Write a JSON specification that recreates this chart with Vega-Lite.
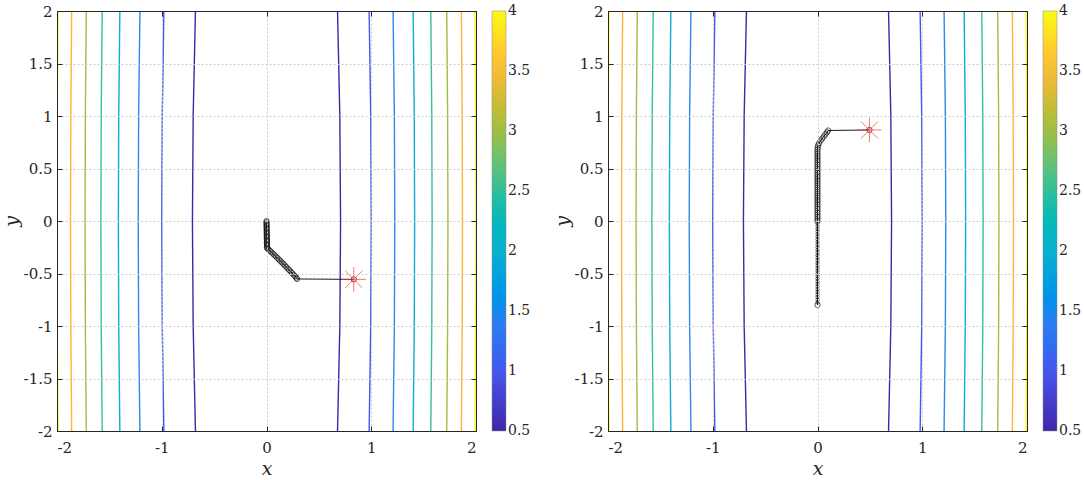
{
  "$schema": "https://vega.github.io/schema/vega-lite/v6.json",
  "padding": {"left": 2, "top": 4, "right": 1, "bottom": 1},
  "datasets": {
    "contours": [
      {"side":"l","f":0.5,"x":-0.6782,"y":-2},{"side":"l","f":0.5,"x":-0.7,"y":-1},{"side":"l","f":0.5,"x":-0.7071,"y":0},{"side":"l","f":0.5,"x":-0.7,"y":1},{"side":"l","f":0.5,"x":-0.6782,"y":2},
      {"side":"r","f":0.5,"x":0.6782,"y":-2},{"side":"r","f":0.5,"x":0.7,"y":-1},{"side":"r","f":0.5,"x":0.7071,"y":0},{"side":"r","f":0.5,"x":0.7,"y":1},{"side":"r","f":0.5,"x":0.6782,"y":2},
      {"side":"l","f":1,"x":-0.9798,"y":-2},{"side":"l","f":1,"x":-0.995,"y":-1},{"side":"l","f":1,"x":-1,"y":0},{"side":"l","f":1,"x":-0.995,"y":1},{"side":"l","f":1,"x":-0.9798,"y":2},
      {"side":"r","f":1,"x":0.9798,"y":-2},{"side":"r","f":1,"x":0.995,"y":-1},{"side":"r","f":1,"x":1,"y":0},{"side":"r","f":1,"x":0.995,"y":1},{"side":"r","f":1,"x":0.9798,"y":2},
      {"side":"l","f":1.5,"x":-1.2083,"y":-2},{"side":"l","f":1.5,"x":-1.2207,"y":-1},{"side":"l","f":1.5,"x":-1.2247,"y":0},{"side":"l","f":1.5,"x":-1.2207,"y":1},{"side":"l","f":1.5,"x":-1.2083,"y":2},
      {"side":"r","f":1.5,"x":1.2083,"y":-2},{"side":"r","f":1.5,"x":1.2207,"y":-1},{"side":"r","f":1.5,"x":1.2247,"y":0},{"side":"r","f":1.5,"x":1.2207,"y":1},{"side":"r","f":1.5,"x":1.2083,"y":2},
      {"side":"l","f":2,"x":-1.4,"y":-2},{"side":"l","f":2,"x":-1.4107,"y":-1},{"side":"l","f":2,"x":-1.4142,"y":0},{"side":"l","f":2,"x":-1.4107,"y":1},{"side":"l","f":2,"x":-1.4,"y":2},
      {"side":"r","f":2,"x":1.4,"y":-2},{"side":"r","f":2,"x":1.4107,"y":-1},{"side":"r","f":2,"x":1.4142,"y":0},{"side":"r","f":2,"x":1.4107,"y":1},{"side":"r","f":2,"x":1.4,"y":2},
      {"side":"l","f":2.5,"x":-1.5684,"y":-2},{"side":"l","f":2.5,"x":-1.578,"y":-1},{"side":"l","f":2.5,"x":-1.5811,"y":0},{"side":"l","f":2.5,"x":-1.578,"y":1},{"side":"l","f":2.5,"x":-1.5684,"y":2},
      {"side":"r","f":2.5,"x":1.5684,"y":-2},{"side":"r","f":2.5,"x":1.578,"y":-1},{"side":"r","f":2.5,"x":1.5811,"y":0},{"side":"r","f":2.5,"x":1.578,"y":1},{"side":"r","f":2.5,"x":1.5684,"y":2},
      {"side":"l","f":3,"x":-1.7205,"y":-2},{"side":"l","f":3,"x":-1.7292,"y":-1},{"side":"l","f":3,"x":-1.7321,"y":0},{"side":"l","f":3,"x":-1.7292,"y":1},{"side":"l","f":3,"x":-1.7205,"y":2},
      {"side":"r","f":3,"x":1.7205,"y":-2},{"side":"r","f":3,"x":1.7292,"y":-1},{"side":"r","f":3,"x":1.7321,"y":0},{"side":"r","f":3,"x":1.7292,"y":1},{"side":"r","f":3,"x":1.7205,"y":2},
      {"side":"l","f":3.5,"x":-1.8601,"y":-2},{"side":"l","f":3.5,"x":-1.8682,"y":-1},{"side":"l","f":3.5,"x":-1.8708,"y":0},{"side":"l","f":3.5,"x":-1.8682,"y":1},{"side":"l","f":3.5,"x":-1.8601,"y":2},
      {"side":"r","f":3.5,"x":1.8601,"y":-2},{"side":"r","f":3.5,"x":1.8682,"y":-1},{"side":"r","f":3.5,"x":1.8708,"y":0},{"side":"r","f":3.5,"x":1.8682,"y":1},{"side":"r","f":3.5,"x":1.8601,"y":2},
      {"side":"l","f":4,"x":-1.99,"y":-2},{"side":"l","f":4,"x":-1.9975,"y":-1},{"side":"l","f":4,"x":-2,"y":0},{"side":"l","f":4,"x":-1.9975,"y":1},{"side":"l","f":4,"x":-1.99,"y":2},
      {"side":"r","f":4,"x":1.99,"y":-2},{"side":"r","f":4,"x":1.9975,"y":-1},{"side":"r","f":4,"x":2,"y":0},{"side":"r","f":4,"x":1.9975,"y":1},{"side":"r","f":4,"x":1.99,"y":2}
    ],
    "path1": [
      {"i":0,"ph":"b","x":0,"y":0},{"i":1,"ph":"b","x":0,"y":-0.012},{"i":2,"ph":"b","x":0,"y":-0.024},{"i":3,"ph":"b","x":0.001,"y":-0.036},{"i":4,"ph":"b","x":0.001,"y":-0.048},{"i":5,"ph":"b","x":0.001,"y":-0.06},{"i":6,"ph":"b","x":0.001,"y":-0.072},{"i":7,"ph":"b","x":0.002,"y":-0.084},{"i":8,"ph":"b","x":0.002,"y":-0.096},{"i":9,"ph":"b","x":0.002,"y":-0.108},{"i":10,"ph":"b","x":0.002,"y":-0.12},{"i":11,"ph":"b","x":0.003,"y":-0.132},{"i":12,"ph":"b","x":0.003,"y":-0.144},{"i":13,"ph":"b","x":0.003,"y":-0.156},{"i":14,"ph":"b","x":0.003,"y":-0.168},{"i":15,"ph":"b","x":0.004,"y":-0.18},{"i":16,"ph":"b","x":0.004,"y":-0.192},{"i":17,"ph":"b","x":0.004,"y":-0.204},{"i":18,"ph":"b","x":0.004,"y":-0.216},{"i":19,"ph":"b","x":0.005,"y":-0.228},{"i":20,"ph":"b","x":0.005,"y":-0.24},{"i":21,"ph":"b","x":0.005,"y":-0.252},
      {"i":22,"ph":"b","x":0.008,"y":-0.262},{"i":23,"ph":"b","x":0.02,"y":-0.272},{"i":24,"ph":"b","x":0.034,"y":-0.285},{"i":25,"ph":"b","x":0.048,"y":-0.298},{"i":26,"ph":"b","x":0.062,"y":-0.311},{"i":27,"ph":"b","x":0.076,"y":-0.325},{"i":28,"ph":"b","x":0.09,"y":-0.338},{"i":29,"ph":"b","x":0.104,"y":-0.352},{"i":30,"ph":"b","x":0.118,"y":-0.366},{"i":31,"ph":"b","x":0.132,"y":-0.38},{"i":32,"ph":"b","x":0.146,"y":-0.394},{"i":33,"ph":"b","x":0.16,"y":-0.408},{"i":34,"ph":"b","x":0.174,"y":-0.422},{"i":35,"ph":"b","x":0.188,"y":-0.437},{"i":36,"ph":"b","x":0.202,"y":-0.452},{"i":37,"ph":"b","x":0.216,"y":-0.466},{"i":38,"ph":"b","x":0.23,"y":-0.481},{"i":39,"ph":"b","x":0.244,"y":-0.496},{"i":40,"ph":"b","x":0.258,"y":-0.511},{"i":41,"ph":"b","x":0.272,"y":-0.526},{"i":42,"ph":"b","x":0.284,"y":-0.54},{"i":43,"ph":"b","x":0.292,"y":-0.552},
      {"i":44,"ph":"b","x":0.833,"y":-0.556}
    ],
    "star1": [{"x":0.833,"y":-0.556}],
    "path2": [
      {"i":0,"ph":"b","x":0,"y":-0.8},
      {"i":1,"ph":"a","x":0,"y":-0.775},{"i":2,"ph":"a","x":0,"y":-0.75},{"i":3,"ph":"a","x":0,"y":-0.725},{"i":4,"ph":"a","x":0,"y":-0.7},{"i":5,"ph":"a","x":0,"y":-0.675},{"i":6,"ph":"a","x":0,"y":-0.65},{"i":7,"ph":"a","x":0,"y":-0.625},{"i":8,"ph":"a","x":0,"y":-0.6},{"i":9,"ph":"a","x":0,"y":-0.575},{"i":10,"ph":"a","x":0,"y":-0.55},{"i":11,"ph":"a","x":0,"y":-0.525},{"i":12,"ph":"a","x":0,"y":-0.5},{"i":13,"ph":"a","x":0,"y":-0.475},{"i":14,"ph":"a","x":0,"y":-0.45},{"i":15,"ph":"a","x":0,"y":-0.425},{"i":16,"ph":"a","x":0,"y":-0.4},{"i":17,"ph":"a","x":0,"y":-0.375},{"i":18,"ph":"a","x":0,"y":-0.35},{"i":19,"ph":"a","x":0,"y":-0.325},{"i":20,"ph":"a","x":0,"y":-0.3},{"i":21,"ph":"a","x":0,"y":-0.275},{"i":22,"ph":"a","x":0,"y":-0.25},{"i":23,"ph":"a","x":0,"y":-0.225},{"i":24,"ph":"a","x":0,"y":-0.2},{"i":25,"ph":"a","x":0,"y":-0.175},{"i":26,"ph":"a","x":0,"y":-0.15},{"i":27,"ph":"a","x":0,"y":-0.125},{"i":28,"ph":"a","x":0,"y":-0.1},{"i":29,"ph":"a","x":0,"y":-0.075},{"i":30,"ph":"a","x":0,"y":-0.05},{"i":31,"ph":"a","x":0,"y":-0.025},
      {"i":32,"ph":"b","x":0,"y":0},{"i":33,"ph":"b","x":0,"y":0.02},{"i":34,"ph":"b","x":0,"y":0.04},{"i":35,"ph":"b","x":0,"y":0.06},{"i":36,"ph":"b","x":0,"y":0.08},{"i":37,"ph":"b","x":0,"y":0.1},{"i":38,"ph":"b","x":0,"y":0.12},{"i":39,"ph":"b","x":0,"y":0.14},{"i":40,"ph":"b","x":0,"y":0.16},{"i":41,"ph":"b","x":0,"y":0.18},{"i":42,"ph":"b","x":0,"y":0.2},{"i":43,"ph":"b","x":0,"y":0.22},{"i":44,"ph":"b","x":0,"y":0.24},{"i":45,"ph":"b","x":0,"y":0.26},{"i":46,"ph":"b","x":0,"y":0.28},{"i":47,"ph":"b","x":0,"y":0.3},{"i":48,"ph":"b","x":0,"y":0.32},{"i":49,"ph":"b","x":0,"y":0.34},{"i":50,"ph":"b","x":0,"y":0.36},{"i":51,"ph":"b","x":0,"y":0.38},{"i":52,"ph":"b","x":0,"y":0.4},{"i":53,"ph":"b","x":0,"y":0.42},{"i":54,"ph":"b","x":0,"y":0.44},{"i":55,"ph":"b","x":0,"y":0.46},{"i":56,"ph":"b","x":0,"y":0.48},{"i":57,"ph":"b","x":0,"y":0.5},{"i":58,"ph":"b","x":0,"y":0.52},{"i":59,"ph":"b","x":0,"y":0.54},{"i":60,"ph":"b","x":0,"y":0.56},{"i":61,"ph":"b","x":0,"y":0.58},{"i":62,"ph":"b","x":0,"y":0.6},{"i":63,"ph":"b","x":0,"y":0.62},{"i":64,"ph":"b","x":0,"y":0.64},{"i":65,"ph":"b","x":0,"y":0.66},{"i":66,"ph":"b","x":0,"y":0.68},{"i":67,"ph":"b","x":0.001,"y":0.7},
      {"i":68,"ph":"b","x":0.005,"y":0.72},{"i":69,"ph":"b","x":0.015,"y":0.74},{"i":70,"ph":"b","x":0.03,"y":0.765},{"i":71,"ph":"b","x":0.045,"y":0.785},{"i":72,"ph":"b","x":0.06,"y":0.805},{"i":73,"ph":"b","x":0.075,"y":0.825},{"i":74,"ph":"b","x":0.09,"y":0.845},{"i":75,"ph":"b","x":0.102,"y":0.862},
      {"i":76,"ph":"b","x":0.496,"y":0.867}
    ],
    "star2": [{"x":0.496,"y":0.867}]
  },
  "hconcat": [
    {
      "width": 419, "height": 420,
      "layer": [
        {
          "data": {"name": "contours"},
          "mark": {"type": "line", "strokeWidth": 1.4, "clip": true},
          "encoding": {
            "x": {"field": "x", "type": "quantitative", "scale": {"domain": [-2, 2], "nice": false, "zero": false}, "axis": {"orient": "bottom", "values": [-2, -1, 0, 1, 2], "labelExpr": "'' + datum.value", "title": "x", "zindex": 1}},
            "y": {"field": "y", "type": "quantitative", "scale": {"domain": [-2, 2], "nice": false, "zero": false}, "axis": {"orient": "left", "values": [-2, -1.5, -1, -0.5, 0, 0.5, 1, 1.5, 2], "labelExpr": "'' + datum.value", "title": "y", "zindex": 1}},
            "color": {"field": "f", "type": "quantitative", "scale": {"domain": [0.5, 1, 1.5, 2, 2.5, 3, 3.5, 4], "range": ["#3E26A8", "#4656EE", "#2E87EF", "#0BAFCF", "#36BF9B", "#9FBE45", "#FDB63C", "#F9FB15"]}, "legend": {"title": null, "values": [0.5, 1, 1.5, 2, 2.5, 3, 3.5, 4], "labelExpr": "'' + datum.value", "encode": {"labels": {"update": {"baseline": {"value": "middle"}}}}}},
            "detail": {"field": "side", "type": "nominal"},
            "order": {"field": "y", "type": "quantitative"}
          }
        },
        {
          "data": {"name": "path1"},
          "mark": {"type": "line", "color": "#1a1a1a", "strokeWidth": 1},
          "encoding": {
            "x": {"field": "x", "type": "quantitative", "axis": null},
            "y": {"field": "y", "type": "quantitative", "axis": null},
            "order": {"field": "i", "type": "quantitative"}
          }
        },
        {
          "data": {"name": "path1"},
          "mark": {"type": "point", "shape": "circle", "filled": false, "stroke": "#000000", "strokeWidth": 0.9},
          "encoding": {
            "x": {"field": "x", "type": "quantitative", "axis": null},
            "y": {"field": "y", "type": "quantitative", "axis": null},
            "size": {"field": "ph", "type": "nominal", "scale": {"domain": ["a", "b"], "range": [10, 28]}, "legend": null}
          }
        },
        {
          "data": {"name": "star1"},
          "mark": {"type": "point", "shape": "M-1,0L1,0M0,-1L0,1M-0.7,-0.7L0.7,0.7M-0.7,0.7L0.7,-0.7", "filled": false, "stroke": "#ff3b3b", "strokeWidth": 1, "opacity": 0.7, "size": 600},
          "encoding": {
            "x": {"field": "x", "type": "quantitative", "axis": null},
            "y": {"field": "y", "type": "quantitative", "axis": null}
          }
        },
        {
          "data": {"name": "star1"},
          "mark": {"type": "point", "opacity": 0},
          "encoding": {
            "x": {"field": "x", "type": "quantitative", "axis": {"orient": "top", "values": [-2, -1, 0, 1, 2], "labels": false, "grid": false, "title": null, "domain": true, "domainColor": "#262626", "zindex": 2}},
            "y": {"field": "y", "type": "quantitative", "axis": {"orient": "right", "values": [-2, -1.5, -1, -0.5, 0, 0.5, 1, 1.5, 2], "labels": false, "grid": false, "title": null, "domain": true, "domainColor": "#262626", "zindex": 2}}
          }
        },
        {
          "data": {"name": "star1"},
          "mark": {"type": "point", "opacity": 0},
          "encoding": {
            "x": {"field": "x", "type": "quantitative", "axis": {"orient": "bottom", "labels": false, "ticks": false, "grid": false, "title": null, "domain": true, "domainColor": "#262626", "zindex": 2}},
            "y": {"field": "y", "type": "quantitative", "axis": {"orient": "left", "labels": false, "ticks": false, "grid": false, "title": null, "domain": true, "domainColor": "#262626", "zindex": 2}}
          }
        }
      ],
      "resolve": {"axis": {"x": "independent", "y": "independent"}}
    },
    {
      "width": 419, "height": 420,
      "layer": [
        {
          "data": {"name": "contours"},
          "mark": {"type": "line", "strokeWidth": 1.4, "clip": true},
          "encoding": {
            "x": {"field": "x", "type": "quantitative", "scale": {"domain": [-2, 2], "nice": false, "zero": false}, "axis": {"orient": "bottom", "values": [-2, -1, 0, 1, 2], "labelExpr": "'' + datum.value", "title": "x", "zindex": 1}},
            "y": {"field": "y", "type": "quantitative", "scale": {"domain": [-2, 2], "nice": false, "zero": false}, "axis": {"orient": "left", "values": [-2, -1.5, -1, -0.5, 0, 0.5, 1, 1.5, 2], "labelExpr": "'' + datum.value", "title": "y", "zindex": 1}},
            "color": {"field": "f", "type": "quantitative", "scale": {"domain": [0.5, 1, 1.5, 2, 2.5, 3, 3.5, 4], "range": ["#3E26A8", "#4656EE", "#2E87EF", "#0BAFCF", "#36BF9B", "#9FBE45", "#FDB63C", "#F9FB15"]}, "legend": {"title": null, "values": [0.5, 1, 1.5, 2, 2.5, 3, 3.5, 4], "labelExpr": "'' + datum.value", "encode": {"labels": {"update": {"baseline": {"value": "middle"}}}}}},
            "detail": {"field": "side", "type": "nominal"},
            "order": {"field": "y", "type": "quantitative"}
          }
        },
        {
          "data": {"name": "path2"},
          "mark": {"type": "line", "color": "#1a1a1a", "strokeWidth": 1},
          "encoding": {
            "x": {"field": "x", "type": "quantitative", "axis": null},
            "y": {"field": "y", "type": "quantitative", "axis": null},
            "order": {"field": "i", "type": "quantitative"}
          }
        },
        {
          "data": {"name": "path2"},
          "mark": {"type": "point", "shape": "circle", "filled": false, "stroke": "#000000", "strokeWidth": 0.9},
          "encoding": {
            "x": {"field": "x", "type": "quantitative", "axis": null},
            "y": {"field": "y", "type": "quantitative", "axis": null},
            "size": {"field": "ph", "type": "nominal", "scale": {"domain": ["a", "b"], "range": [10, 28]}, "legend": null}
          }
        },
        {
          "data": {"name": "star2"},
          "mark": {"type": "point", "shape": "M-1,0L1,0M0,-1L0,1M-0.7,-0.7L0.7,0.7M-0.7,0.7L0.7,-0.7", "filled": false, "stroke": "#ff3b3b", "strokeWidth": 1, "opacity": 0.7, "size": 600},
          "encoding": {
            "x": {"field": "x", "type": "quantitative", "axis": null},
            "y": {"field": "y", "type": "quantitative", "axis": null}
          }
        },
        {
          "data": {"name": "star2"},
          "mark": {"type": "point", "opacity": 0},
          "encoding": {
            "x": {"field": "x", "type": "quantitative", "axis": {"orient": "top", "values": [-2, -1, 0, 1, 2], "labels": false, "grid": false, "title": null, "domain": true, "domainColor": "#262626", "zindex": 2}},
            "y": {"field": "y", "type": "quantitative", "axis": {"orient": "right", "values": [-2, -1.5, -1, -0.5, 0, 0.5, 1, 1.5, 2], "labels": false, "grid": false, "title": null, "domain": true, "domainColor": "#262626", "zindex": 2}}
          }
        },
        {
          "data": {"name": "star2"},
          "mark": {"type": "point", "opacity": 0},
          "encoding": {
            "x": {"field": "x", "type": "quantitative", "axis": {"orient": "bottom", "labels": false, "ticks": false, "grid": false, "title": null, "domain": true, "domainColor": "#262626", "zindex": 2}},
            "y": {"field": "y", "type": "quantitative", "axis": {"orient": "left", "labels": false, "ticks": false, "grid": false, "title": null, "domain": true, "domainColor": "#262626", "zindex": 2}}
          }
        }
      ],
      "resolve": {"axis": {"x": "independent", "y": "independent"}}
    }
  ],
  "spacing": 22,
  "resolve": {"scale": {"color": "independent"}, "legend": {"color": "independent"}},
  "config": {
    "font": "DejaVu Serif",
    "view": {"stroke": null},
    "axis": {
      "labelFont": "DejaVu Serif", "labelFontSize": 15, "labelColor": "#262626",
      "tickColor": "#262626", "tickSize": -5, "tickWidth": 1, "domain": false,
      "gridColor": "#cccccc", "gridDash": [2, 2], "gridWidth": 1,
      "titleFont": "DejaVu Serif", "titleFontSize": 19, "titleFontStyle": "italic", "titleFontWeight": "normal", "titleColor": "#262626"
    },
    "axisX": {"labelPadding": 14, "titlePadding": 4},
    "axisY": {"labelPadding": 10, "titlePadding": 2},
    "legend": {
      "gradientLength": 420, "gradientThickness": 14, "gradientStrokeColor": "#888888", "gradientStrokeWidth": 0.5,
      "labelFont": "DejaVu Serif", "labelFontSize": 14, "labelColor": "#262626", "labelOverlap": false,
      "offset": 15, "padding": 0, "labelOffset": 4
    }
  }
}
